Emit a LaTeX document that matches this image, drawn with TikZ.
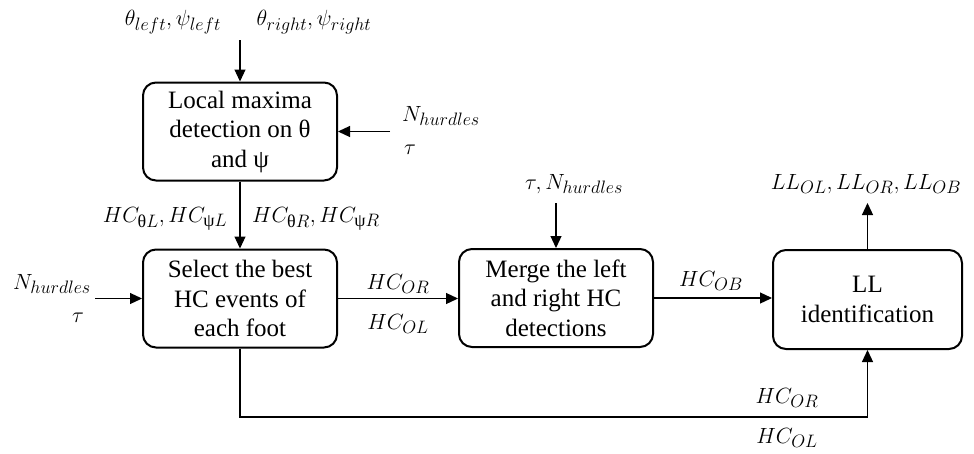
\RequirePackage{fix-cm}
\documentclass[tikz,border=0pt]{standalone}
\usepackage{amsmath}
\usepackage{fontspec}
\setmainfont{Liberation Serif}
\DeclareMathSizes{22}{22}{18}{13}
\usetikzlibrary{arrows.meta}
\begin{document}
\begin{tikzpicture}[x=1pt,y=-1pt,
  box/.style={draw,line width=2pt,rounded corners=13pt,align=center,
    font=\fontsize{25}{29.5}\selectfont,inner sep=0pt,
    minimum width=194pt,minimum height=98pt},
  lbl/.style={font=\fontsize{22}{26}\selectfont,inner sep=0pt},
  conn/.style={line width=1.2pt,-{Triangle[length=12pt,width=11pt]}}]
\useasboundingbox (0,0) rectangle (974,453);
% boxes
\node[box] (lm) at (240,131.5) {Local maxima\\detection on θ\\and ψ};
\node[box] (sel) at (240,298.5) {Select the best\\HC events of\\each foot};
\node[box] (mg) at (556,298) {Merge the left\\and right HC\\detections};
\node[box,minimum width=189pt,minimum height=99pt] (ll) at (867.5,299.5) {LL\\identification};
% labels
\node[lbl] (tl) at (173,22) {$\theta_{left},\psi_{left}$};
\node[lbl] (tr) at (314,22) {$\theta_{right},\psi_{right}$};
\node[lbl] (n1) at (441,116) {$N_{hurdles}$};
\node[lbl] (t1) at (410,150) {$\tau$};
\node[lbl] (n2) at (52,284) {$N_{hurdles}$};
\node[lbl] (t2) at (78,318) {$\tau$};
\node[lbl] (hl) at (165,219) {$HC_{\text{θ}L},HC_{\text{ψ}L}$};
\node[lbl] (hr) at (316,219) {$HC_{\text{θ}R},HC_{\text{ψ}R}$};
\node[lbl] (or1) at (398,284) {$HC_{OR}$};
\node[lbl] (ol1) at (398,324) {$HC_{OL}$};
\node[lbl] (tn) at (574,184) {$\tau,N_{hurdles}$};
\node[lbl] (ob) at (711,281) {$HC_{OB}$};
\node[lbl] (llo) at (866,184) {$LL_{OL},LL_{OR},LL_{OB}$};
\node[lbl] (or2) at (787,398) {$HC_{OR}$};
\node[lbl] (ol2) at (787,438) {$HC_{OL}$};
% free ends
\coordinate (topin) at (240,40);
\coordinate (rin) at (390,131.5);
\coordinate (lin) at (95,298.5);
\coordinate (mgin) at (556,203);
\coordinate (llout) at (867.5,203);
\coordinate (fb) at (867.5,417);
% connectors
\draw[conn] (topin) -- (lm.north);
\draw[conn] (rin) -- (lm.east);
\draw[conn] (lm.south) -- (sel.north);
\draw[conn] (lin) -- (sel.west);
\draw[conn] (sel.east) -- (sel.east -| mg.west);
\draw[conn] (mgin) -- (mg.north);
\draw[conn] (mg.east) -- (mg.east -| ll.west);
\draw[conn] (ll.north) -- (llout);
\draw[conn] (sel.south) -- (sel.south |- fb) -- (fb) -- (ll.south);
\end{tikzpicture}
\end{document}
